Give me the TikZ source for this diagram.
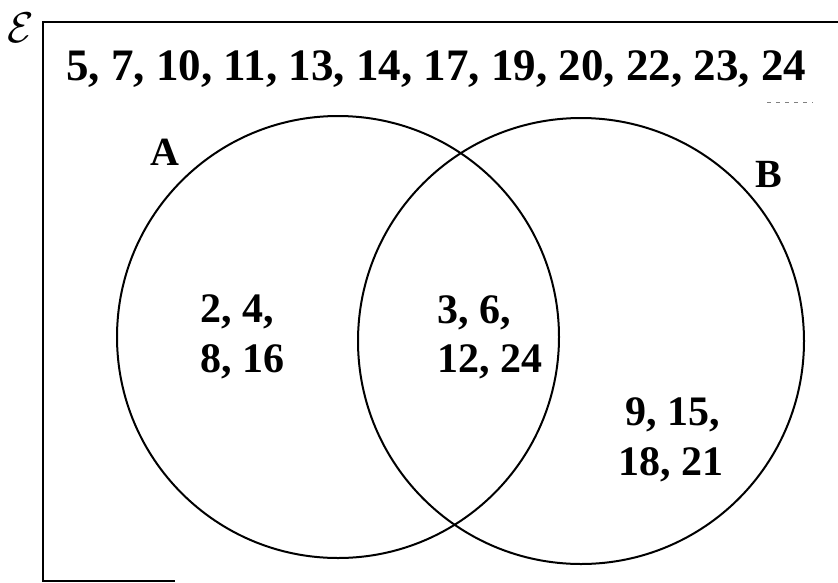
\documentclass[tikz,border=0pt]{standalone}
\usepackage{fontspec}
\setmainfont{Liberation Serif}
\begin{document}
\begin{tikzpicture}[x=1pt,y=-1pt,
  setline/.style={line width=2pt, black},
  framel/.style={line width=2.2pt, black},
  numtxt/.style={anchor=base west, inner sep=0pt, font=\fontsize{42}{50}\selectfont\bfseries},
  toptxt/.style={anchor=base west, inner sep=0pt, font=\fontsize{45}{50}\selectfont\bfseries},
  setlbl/.style={anchor=base west, inner sep=0pt, font=\fontsize{40}{48}\selectfont\bfseries}]
\useasboundingbox (0,0) rectangle (838,582);
% universal set frame
\coordinate (bl) at (175,581);
\coordinate (cbl) at (43,581);
\coordinate (ctl) at (43,22);
\coordinate (tr) at (838,22);
\draw[framel] (bl) -- (cbl) -- (ctl) -- (tr);
\coordinate (d1) at (767,102);
\coordinate (d2) at (813,102);
\draw[line width=1pt, gray, dash pattern=on 4pt off 5pt] (d1) -- (d2);
\node[inner sep=0pt] (E) at (21,28) {\scalebox{4.3}{$\mathcal{E}$}};
% circles
\node[circle, draw, setline, minimum size=442pt, inner sep=0pt] (A) at (338,337) {};
\node[circle, draw, setline, minimum size=446pt, inner sep=0pt] (B) at (581,341) {};
% labels
\node[setlbl] (lA) at (150,165) {A};
\node[setlbl] (lB) at (755,187) {B};
% outside
\node[toptxt] (out) at (66,80) {5, 7, 10, 11, 13, 14, 17, 19, 20, 22, 23, 24};
% A only
\node[numtxt] (a1) at (200,322) {2, 4,};
\node[numtxt] (a2) at (200,372) {8, 16};
% A and B
\node[numtxt] (ab1) at (437,323) {3, 6,};
\node[numtxt] (ab2) at (437,372) {12, 24};
% B only
\node[numtxt] (b1) at (625,425) {9, 15,};
\node[numtxt] (b2) at (618,475) {18, 21};
\end{tikzpicture}
\end{document}
